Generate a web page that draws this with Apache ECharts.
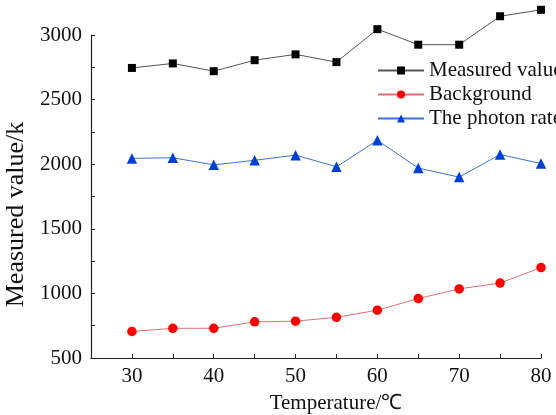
<!DOCTYPE html>
<html>
<head>
<meta charset="utf-8">
<script src="https://cdn.jsdelivr.net/npm/echarts@6/dist/echarts.min.js"></script>
<style>html,body{margin:0;padding:0;background:#fff;}#c{width:556px;height:415px;}</style>
</head>
<body>
<div id="c"></div>
<script>
var temperatures = [30, 35, 40, 45, 50, 55, 60, 65, 70, 75, 80];
var measured = [2745, 2780, 2720, 2805, 2850, 2790, 3045, 2925, 2925, 3145, 3195];
var background = [705, 730, 730, 780, 785, 815, 870, 960, 1035, 1080, 1200];
var photonRate = [2045, 2050, 1995, 2030, 2070, 1980, 2185, 1970, 1900, 2075, 2005];
var seriesNames = ['Measured value', 'Background', 'The photon rate'];
var xTitle = 'Temperature/℃';
var yTitle = 'Measured value/k';

function pairs(vals) { return temperatures.map(function (t, i) { return [t, vals[i]]; }); }

var font = 'Liberation Serif';
var chart = echarts.init(document.getElementById('c'), null, { renderer: 'canvas' });
chart.setOption({
  backgroundColor: '#fff',
  animation: false,
  grid: { left: 91, right: 15, top: 35, bottom: 57, containLabel: false, outerBoundsMode: 'none' },
  legend: {
    orient: 'vertical', left: 372, top: 55, itemWidth: 46, itemHeight: 10, itemGap: 3,
    textStyle: { fontFamily: font, fontSize: 21, color: '#111' },
    data: seriesNames
  },
  xAxis: {
    type: 'value', min: 25, max: 80, interval: 5,
    name: xTitle, nameLocation: 'middle', nameGap: 35,
    nameTextStyle: { fontFamily: font, fontSize: 21, color: '#111', padding: [0, 0, 0, 40] },
    axisLine: { show: true, lineStyle: { color: '#222', width: 1.2 } },
    axisTick: { show: true, inside: true, length: 4, lineStyle: { color: '#222' } },
    axisLabel: { fontFamily: font, fontSize: 21, color: '#111', margin: 8,
      formatter: function (v) { return v % 10 === 0 ? String(v) : ''; } },
    splitLine: { show: false }
  },
  yAxis: {
    type: 'value', min: 500, max: 3000, interval: 250,
    name: yTitle, nameLocation: 'middle', nameGap: 51, nameRotate: 90,
    nameTextStyle: { fontFamily: font, fontSize: 26, color: '#111', padding: [0, 36, 0, 0] },
    axisLine: { show: true, lineStyle: { color: '#222', width: 1.2 } },
    axisTick: { show: true, inside: true, length: 4, lineStyle: { color: '#222' } },
    axisLabel: { fontFamily: font, fontSize: 21, color: '#111', margin: 9,
      formatter: function (v) { return v % 500 === 0 ? String(v) : ''; } },
    splitLine: { show: false }
  },
  series: [
    { name: seriesNames[0], type: 'line', data: pairs(measured), clip: false,
      symbol: 'rect', symbolSize: 8,
      lineStyle: { color: '#555', width: 1 }, itemStyle: { color: '#000' } },
    { name: seriesNames[1], type: 'line', data: pairs(background), clip: false,
      symbol: 'circle', symbolSize: 9.5,
      lineStyle: { color: '#e07070', width: 1 }, itemStyle: { color: '#ff0000' } },
    { name: seriesNames[2], type: 'line', data: pairs(photonRate), clip: false,
      symbol: 'triangle', symbolSize: 10.5,
      lineStyle: { color: '#3c74d4', width: 1 }, itemStyle: { color: '#0040d8' } }
  ]
});
</script>
</body>
</html>
